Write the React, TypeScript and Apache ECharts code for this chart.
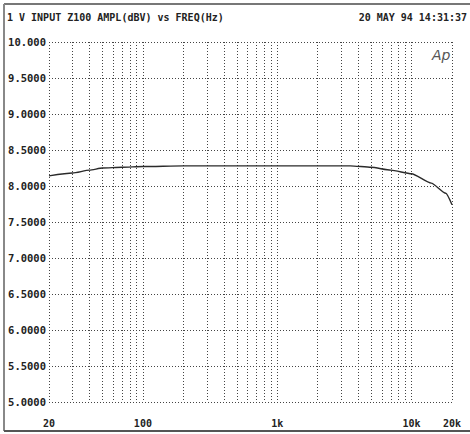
import React, { useEffect, useRef } from "react";
import * as echarts from "echarts";

const freqs = [20, 30, 40, 50, 70, 100, 200, 500, 1000, 2000, 3500, 5000, 7000, 10000, 14000, 18000, 20000];
const amps = [8.14, 8.18, 8.22, 8.25, 8.26, 8.27, 8.28, 8.28, 8.28, 8.28, 8.28, 8.26, 8.22, 8.17, 8.04, 7.9, 7.74];
const gridFreqs = [
  20, 30, 40, 50, 60, 70, 80, 90, 100, 200, 300, 400, 500, 600, 700, 800, 900, 1000,
  2000, 3000, 4000, 5000, 6000, 7000, 8000, 9000, 10000, 20000,
];
const xLabelFreqs = [20, 100, 1000, 10000, 20000];
const xLabelTexts = ["20", "100", "1k", "10k", "20k"];
const yTickLabels = ["5.0000", "5.5000", "6.0000", "6.5000", "7.0000", "7.5000", "8.0000", "8.5000", "9.0000", "9.5000", "10.000"];
const titleText = "1 V INPUT Z100 AMPL(dBV) vs FREQ(Hz)";
const dateText = "20 MAY 94 14:31:37";

const FONT = "'DejaVu Sans Mono', monospace";

export default function App() {
  const ref = useRef<HTMLDivElement>(null);
  useEffect(() => {
    document.body.style.margin = "0";
    const chart = echarts.init(ref.current!, null, { renderer: "svg" });
    const gridStyle = { color: "#444", width: 1, type: [1, 2] as number[] };
    chart.setOption({
      animation: false,
      backgroundColor: "#ffffff",
      grid: { left: 49, right: 18, top: 42, bottom: 32 },
      xAxis: {
        type: "value",
        min: Math.log10(20),
        max: Math.log10(20000),
        axisLine: { show: false },
        axisTick: { show: false, customValues: gridFreqs.map((f) => Math.log10(f)) },
        splitLine: { show: true, lineStyle: gridStyle },
        axisLabel: {
          customValues: xLabelFreqs.map((f) => Math.log10(f)),
          margin: 16,
          fontFamily: FONT,
          fontSize: 10,
          fontWeight: "bold",
          color: "#222",
          formatter: (v: number) => {
            const f = Math.round(Math.pow(10, v));
            const i = xLabelFreqs.indexOf(f);
            return i >= 0 ? xLabelTexts[i] : "";
          },
        },
      },
      yAxis: {
        type: "value",
        min: 5,
        max: 10,
        interval: 0.5,
        axisLine: { show: false },
        axisTick: { show: false },
        splitLine: { show: true, lineStyle: gridStyle },
        axisLabel: {
          margin: 3,
          fontFamily: FONT,
          fontSize: 10.5,
          fontWeight: "bold",
          color: "#222",
          formatter: (v: number) => {
            const i = Math.round((v - 5) / 0.5);
            return yTickLabels[i] ?? "";
          },
        },
      },
      series: [
        {
          type: "line",
          data: freqs.map((f, i) => [Math.log10(f), amps[i]]),
          showSymbol: false,
          smooth: 0.2,
          smoothMonotone: "x",
          lineStyle: { color: "#2a2a2a", width: 1.4 },
          silent: true,
        },
      ],
      graphic: [
        { type: "line", shape: { x1: 4, y1: 4, x2: 470, y2: 4 }, style: { stroke: "#777", lineWidth: 2 } },
        { type: "line", shape: { x1: 4, y1: 4, x2: 4, y2: 431 }, style: { stroke: "#888", lineWidth: 2 } },
        { type: "line", shape: { x1: 4, y1: 431, x2: 470, y2: 431 }, style: { stroke: "#555", lineWidth: 2 } },
        {
          type: "text",
          left: 7,
          top: 12,
          style: { text: titleText, font: `bold 10px ${FONT}`, fill: "#222" },
        },
        {
          type: "text",
          right: 3,
          top: 12,
          style: { text: dateText, font: `bold 10px ${FONT}`, fill: "#222" },
        },
        {
          type: "text",
          left: 432,
          top: 48,
          style: { text: "Ap", font: `italic 14px 'DejaVu Sans', sans-serif`, fill: "#555" },
        },
      ],
    });
    return () => chart.dispose();
  }, []);
  return <div ref={ref} style={{ width: 470, height: 434 }} />;
}
